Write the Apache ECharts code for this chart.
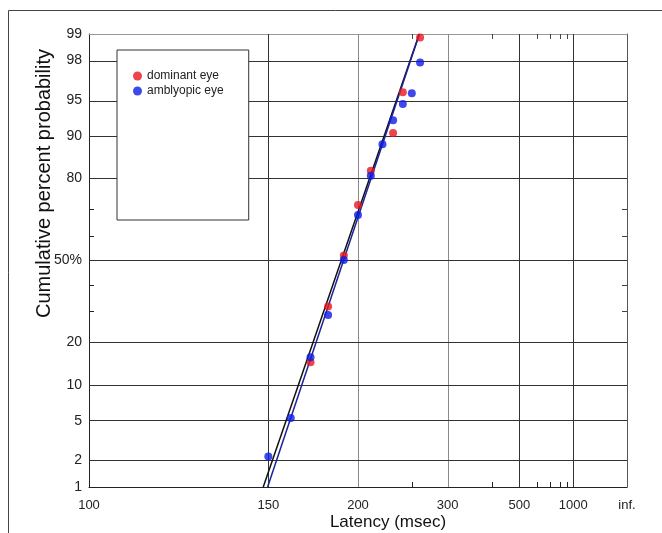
<!DOCTYPE html>
<html>
<head>
<meta charset="utf-8">
<script src="https://cdn.jsdelivr.net/npm/echarts@6/dist/echarts.min.js"></script>
<style>
  html, body { margin: 0; padding: 0; background: #fff; }
  #chart { width: 662px; height: 533px; }
</style>
</head>
<body>
<div id="chart"></div>
<script>
// latency in msec, cumulative percent
const dominantLatency = [170, 180, 190, 200, 210, 230, 240, 260];
const dominantPercent = [14.8, 31.8, 52, 71.6, 82.2, 90.5, 95.8, 98.9];
const amblyopicLatency = [150, 160, 170, 180, 190, 200, 210, 220, 230, 240, 250, 260];
const amblyopicPercent = [2.2, 5.3, 16, 28.8, 50.2, 68, 80.8, 88.4, 92.5, 94.6, 95.7, 97.9];

// fitted lines (end points)
const dominantFitLatency = [147.9, 259];
const amblyopicFitLatency = [149.7, 259.2];
const fitPercent = [1, 99];

const xMajor = [100, 150, 200, 300, 500, 1000, Infinity];
const xLabels = ['100', '150', '200', '300', '500', '1000', 'inf.'];
const xMinor = [250, 400, 600, 700, 800, 900];
const yMajor = [1, 2, 5, 10, 20, 50, 80, 90, 95, 98, 99];
const yLabels = ['1', '2', '5', '10', '20', '50%', '80', '90', '95', '98', '99'];
const yMinor = [30, 40, 60, 70];

// reciprocal time scale
function recip(ms) {
  return ms === Infinity ? 0 : -1000 / ms;
}

// inverse normal (Acklam)
function probit(pct) {
  const p = pct / 100;
  const a = [-3.969683028665376e+01, 2.209460984245205e+02, -2.759285104469687e+02, 1.383577518672690e+02, -3.066479806614716e+01, 2.506628277459239e+00];
  const b = [-5.447609879822406e+01, 1.615858368580409e+02, -1.556989798598866e+02, 6.680131188771972e+01, -1.328068155288572e+01];
  const c = [-7.784894002430293e-03, -3.223964580411365e-01, -2.400758276161838e+00, -2.549732539343734e+00, 4.374664141464968e+00, 2.938163982698783e+00];
  const d = [7.784695709041462e-03, 3.224671290700398e-01, 2.445134137142996e+00, 3.754408661907416e+00];
  const pl = 0.02425;
  let q, r;
  if (p < pl) {
    q = Math.sqrt(-2 * Math.log(p));
    return (((((c[0] * q + c[1]) * q + c[2]) * q + c[3]) * q + c[4]) * q + c[5]) / ((((d[0] * q + d[1]) * q + d[2]) * q + d[3]) * q + 1);
  }
  if (p <= 1 - pl) {
    q = p - 0.5;
    r = q * q;
    return (((((a[0] * r + a[1]) * r + a[2]) * r + a[3]) * r + a[4]) * r + a[5]) * q / (((((b[0] * r + b[1]) * r + b[2]) * r + b[3]) * r + b[4]) * r + 1);
  }
  q = Math.sqrt(-2 * Math.log(1 - p));
  return -(((((c[0] * q + c[1]) * q + c[2]) * q + c[3]) * q + c[4]) * q + c[5]) / ((((d[0] * q + d[1]) * q + d[2]) * q + d[3]) * q + 1);
}

function pairs(lat, pct) {
  return lat.map((v, i) => [recip(v), probit(pct[i])]);
}

function nearestLabel(val, values, labels) {
  let best = 0;
  values.forEach((v, i) => {
    if (Math.abs(v - val) < Math.abs(values[best] - val)) best = i;
  });
  return labels[best];
}

const font = "'Liberation Sans', Arial, sans-serif";
const xMajorVals = xMajor.map(recip);
const yMajorVals = yMajor.map(probit);
const yMin = probit(1), yMax = probit(99);

let myChart = echarts.init(document.getElementById('chart'), null, { renderer: 'canvas' });

// grid lines as markLines (inner ones only, borders come from axis lines)
let gridLines = [];
xMajor.slice(1, -1).forEach((v) => {
  gridLines.push({
    xAxis: recip(v),
    lineStyle: { color: (v === 200 || v === 300) ? '#8a8a8a' : '#333', width: 1, type: 'solid' },
  });
});
yMajor.slice(1, -1).forEach((v) => {
  gridLines.push({
    yAxis: probit(v),
    lineStyle: { color: '#333', width: 1, type: 'solid' },
  });
});

const option = {
  animation: false,
  backgroundColor: '#fff',
  textStyle: { fontFamily: font },
  graphic: [
    {
      type: 'rect',
      shape: { x: 8.5, y: 10.5, width: 700, height: 600 },
      style: { fill: 'none', stroke: '#444', lineWidth: 1 },
      silent: true,
      z: -1,
    },
  ],
  grid: { left: 89, right: 35, top: 34, bottom: 46, outerBoundsMode: 'none' },
  legend: {
    data: ['dominant eye', 'amblyopic eye'],
    orient: 'vertical',
    left: 117,
    top: 50,
    icon: 'circle',
    itemWidth: 9,
    itemHeight: 9,
    itemGap: 1,
    padding: [19, 25, 122, 16],
    backgroundColor: '#fff',
    borderColor: '#333',
    borderWidth: 1,
    textStyle: { fontSize: 12, lineHeight: 14, color: '#222', fontFamily: font },
  },
  xAxis: [
    {
      type: 'value',
      position: 'bottom',
      min: recip(100),
      max: 0,
      axisLine: { show: true, onZero: false, lineStyle: { color: '#222', width: 1 } },
      axisTick: {
        show: true, inside: true, length: 5,
        customValues: xMinor.map(recip),
        lineStyle: { color: '#222' },
      },
      axisLabel: {
        show: true,
        customValues: xMajorVals,
        margin: 12,
        fontSize: 13,
        color: '#222',
        fontFamily: font,
        formatter: (val) => nearestLabel(val, xMajorVals, xLabels),
      },
      splitLine: { show: false },
      name: 'Latency (msec)',
      nameLocation: 'middle',
      nameGap: 27,
      nameMoveOverlap: false,
      nameTextStyle: { fontSize: 17, color: '#111', fontFamily: font, padding: [0, 0, 0, 60] },
    },
    {
      type: 'value',
      position: 'top',
      min: recip(100),
      max: 0,
      axisLine: { show: true, onZero: false, lineStyle: { color: '#999', width: 1 } },
      axisTick: {
        show: true, inside: true, length: 5,
        customValues: xMinor.map(recip),
        lineStyle: { color: '#444' },
      },
      axisLabel: { show: false },
      splitLine: { show: false },
    },
  ],
  yAxis: [
    {
      type: 'value',
      position: 'left',
      min: yMin,
      max: yMax,
      axisLine: { show: true, onZero: false, lineStyle: { color: '#222', width: 1 } },
      axisTick: {
        show: true, inside: true, length: 5,
        customValues: yMinor.map(probit),
        lineStyle: { color: '#222' },
      },
      axisLabel: {
        show: true,
        customValues: yMajorVals,
        margin: 7,
        fontSize: 14,
        color: '#222',
        fontFamily: font,
        formatter: (val) => nearestLabel(val, yMajorVals, yLabels),
      },
      splitLine: { show: false },
      name: 'Cumulative percent probability',
      nameLocation: 'middle',
      nameGap: 35,
      nameRotate: 90,
      nameMoveOverlap: false,
      nameTextStyle: { fontSize: 20, color: '#111', fontFamily: font, padding: [0, 0, 0, 154] },
    },
    {
      type: 'value',
      position: 'right',
      min: yMin,
      max: yMax,
      axisLine: { show: true, onZero: false, lineStyle: { color: '#555', width: 1 } },
      axisTick: {
        show: true, inside: true, length: 5,
        customValues: yMinor.map(probit),
        lineStyle: { color: '#444' },
      },
      axisLabel: { show: false },
      splitLine: { show: false },
    },
  ],
  series: [
    {
      name: 'dominant fit',
      type: 'line',
      data: pairs(dominantFitLatency, fitPercent),
      symbol: 'none',
      lineStyle: { color: '#111', width: 1.5 },
      z: 2,
      markLine: {
        silent: true,
        symbol: ['none', 'none'],
        label: { show: false },
        emphasis: { disabled: true },
        animation: false,
        z: 1,
        data: gridLines,
      },
    },
    {
      name: 'amblyopic fit',
      type: 'line',
      data: pairs(amblyopicFitLatency, fitPercent),
      symbol: 'none',
      lineStyle: { color: '#1c2396', width: 1.5 },
      z: 2,
    },
    {
      name: 'dominant eye',
      type: 'scatter',
      data: pairs(dominantLatency, dominantPercent),
      symbol: 'circle',
      symbolSize: 8,
      itemStyle: { color: '#e8161e' },
      z: 3,
    },
    {
      name: 'amblyopic eye',
      type: 'scatter',
      data: pairs(amblyopicLatency, amblyopicPercent),
      symbol: 'circle',
      symbolSize: 8,
      itemStyle: { color: '#0c1be6' },
      z: 3,
    },
  ],
};

myChart.setOption(option);
</script>
</body>
</html>
